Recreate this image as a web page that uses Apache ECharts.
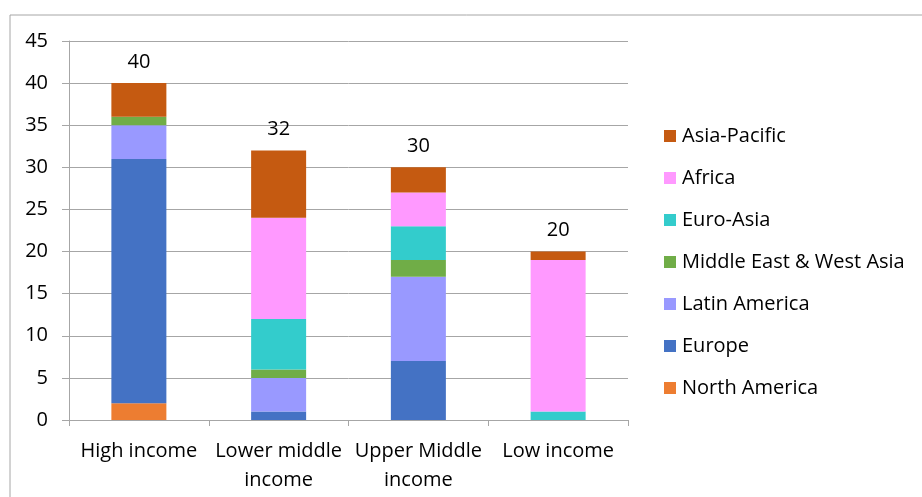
<!DOCTYPE html>
<html>
<head>
<meta charset="utf-8">
<script src="https://cdn.jsdelivr.net/npm/echarts@6/dist/echarts.min.js"></script>
<style>
  html, body { margin: 0; padding: 0; background: #fff; }
  #chart { width: 922px; height: 497px; }
</style>
</head>
<body>
<div id="chart"></div>
<script>
const categories = ['High income', 'Lower middle\nincome', 'Upper Middle\nincome', 'Low income']
const northAmerica = [2, 0, 0, 0]
const europe = [29, 1, 7, 0]
const latinAmerica = [4, 4, 10, 0]
const middleEast = [1, 1, 2, 0]
const euroAsia = [0, 6, 4, 1]
const africa = [0, 12, 4, 18]
const asiaPacific = [4, 8, 3, 1]
const totals = [40, 32, 30, 20]

const fontFamily = '"Open Sans", "Liberation Sans", sans-serif'
const gridColor = '#a6a6a6'

let chart = echarts.init(document.getElementById('chart'))

function bar (name, data, color) {
  return {
    name: name,
    type: 'bar',
    stack: 'Total',
    barWidth: 55,
    itemStyle: { color: color },
    data: data
  }
}

let series = [
  bar('North America', northAmerica, '#ED7D31'),
  bar('Europe', europe, '#4472C4'),
  bar('Latin America', latinAmerica, '#9999FF'),
  bar('Middle East & West Asia', middleEast, '#70AD47'),
  bar('Euro-Asia', euroAsia, '#33CCCC'),
  bar('Africa', africa, '#FF99FF'),
  bar('Asia-Pacific', asiaPacific, '#C55A11')
]
// totals shown above the top segment
series[6].label = {
  show: true,
  position: 'top',
  distance: 11,
  color: '#000',
  fontSize: 20,
  fontFamily: fontFamily,
  formatter: function (p) { return totals[p.dataIndex] }
}

let option = {
  animation: false,
  textStyle: { fontFamily: fontFamily },
  graphic: [{
    type: 'rect',
    shape: { x: 10, y: 15, width: 940, height: 520 },
    style: { fill: 'none', stroke: '#a6a6a6', lineWidth: 1 },
    silent: true
  }],
  legend: {
    orient: 'vertical',
    left: 659,
    top: 121,
    itemWidth: 12,
    itemHeight: 12,
    itemGap: 22,
    icon: 'rect',
    textStyle: { fontSize: 20, color: '#000', fontFamily: fontFamily, padding: [0, 0, 0, 1] },
    data: ['Asia-Pacific', 'Africa', 'Euro-Asia', 'Middle East & West Asia', 'Latin America', 'Europe', 'North America']
  },
  grid: { left: 69, top: 41, right: 294, bottom: 77 },
  xAxis: {
    type: 'category',
    data: categories,
    axisLine: { lineStyle: { color: gridColor } },
    axisTick: { show: true, length: 6, lineStyle: { color: gridColor } },
    axisLabel: { color: '#000', fontSize: 20, margin: 17, lineHeight: 29, interval: 0 }
  },
  yAxis: {
    type: 'value',
    min: 0,
    max: 45,
    interval: 5,
    axisLine: { show: true, lineStyle: { color: gridColor } },
    axisTick: { show: true, length: 7, lineStyle: { color: gridColor } },
    axisLabel: { color: '#000', fontSize: 20, margin: 21 },
    splitLine: { lineStyle: { color: gridColor } }
  },
  series: series
}
option && chart.setOption(option)
</script>
</body>
</html>
